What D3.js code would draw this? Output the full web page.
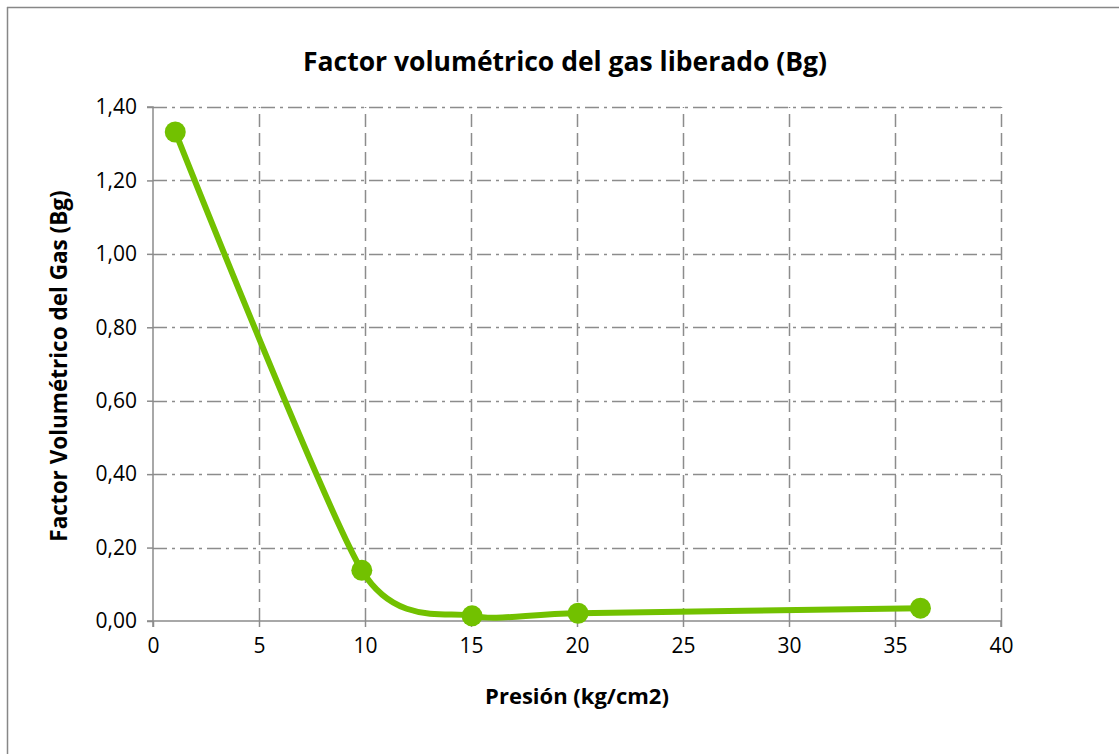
<!DOCTYPE html>
<html><head><meta charset="utf-8">
<script src="https://cdn.jsdelivr.net/npm/d3@7"></script>
<style>
body{margin:0;background:#fff;}
text{font-family:"Open Sans","Liberation Sans",sans-serif;fill:#000;}
</style></head>
<body><svg id="c" width="1119" height="754"></svg>
<script>
const titleText = "Factor volumétrico del gas liberado (Bg)";
const xLabel = "Presión (kg/cm2)";
const yLabel = "Factor Volumétrico del Gas (Bg)";
const pressure = [1.05, 9.85, 15.05, 20.05, 36.2];
const bg = [1.332, 0.138, 0.014, 0.021, 0.035];
const xTicks = [0, 5, 10, 15, 20, 25, 30, 35, 40];
const yTicks = [0, 0.2, 0.4, 0.6, 0.8, 1.0, 1.2, 1.4];

const svg = d3.select("#c");
const W = 1119, H = 754;
const m = {left:153, right:1001, top:107, bottom:621};
const x = d3.scaleLinear().domain([0,40]).range([m.left, m.right]);
const y = d3.scaleLinear().domain([0,1.4]).range([m.bottom, m.top]);
const grid = "#8c8c8c";

svg.append("line").attr("x1",7).attr("x2",W).attr("y1",7.5).attr("y2",7.5).attr("stroke","#878787").attr("stroke-width",1.5);
svg.append("line").attr("x1",7.5).attr("x2",7.5).attr("y1",7).attr("y2",H).attr("stroke","#878787").attr("stroke-width",1.5);

svg.append("g").selectAll("line").data(yTicks.slice(1)).join("line")
  .attr("x1",m.left).attr("x2",m.right)
  .attr("y1",d=>Math.round(y(d))+0.5).attr("y2",d=>Math.round(y(d))+0.5)
  .attr("stroke",grid).attr("stroke-width",1.5).attr("stroke-dasharray","14,5,3,5");
svg.append("g").selectAll("line").data(xTicks.slice(1)).join("line")
  .attr("x1",d=>Math.round(x(d))+0.5).attr("x2",d=>Math.round(x(d))+0.5)
  .attr("y1",m.bottom).attr("y2",m.top)
  .attr("stroke",grid).attr("stroke-width",1.5).attr("stroke-dasharray","13,6");

const xAxis = d3.axisBottom(x).tickValues(xTicks).tickSize(6).tickPadding(8).tickFormat(d3.format("d"));
const gx = svg.append("g").attr("transform",`translate(0,${m.bottom})`).call(xAxis);
const yAxis = d3.axisLeft(y).tickValues(yTicks).tickSize(6).tickPadding(10).tickFormat(d=>d.toFixed(2).replace(".",","));
const gy = svg.append("g").attr("transform",`translate(${m.left},0)`).call(yAxis);
[gx,gy].forEach(g=>{
  g.select(".domain").attr("stroke",grid).attr("stroke-width",1.5);
  g.selectAll(".tick line").attr("stroke",grid).attr("stroke-width",1.5);
  g.selectAll(".tick text").attr("font-family","'Open Sans',sans-serif").attr("font-size",21).attr("fill","#000");
});
gx.select(".domain").attr("d",`M${m.left},6V0H${m.right}V6`);
gy.select(".domain").attr("d",`M-6,${m.bottom}H0V${m.top}H-6`);
gx.selectAll(".tick text").attr("dy","0.85em");

const data = pressure.map((p,i)=>({p, v:bg[i]}));
const line = d3.line().x(d=>x(d.p)).y(d=>y(d.v)).curve(d3.curveCardinal.tension(0.3));
const green = "#72c100";
svg.append("path").datum(data).attr("d",line).attr("fill","none").attr("stroke",green).attr("stroke-width",6).attr("stroke-linejoin","round");
svg.append("g").selectAll("circle").data(data).join("circle")
  .attr("cx",d=>x(d.p)).attr("cy",d=>y(d.v)).attr("r",10.5).attr("fill",green);

svg.append("text").attr("x",565).attr("y",71).attr("text-anchor","middle")
  .attr("font-size",26.5).attr("font-weight","bold").text(titleText);
svg.append("text").attr("x",577).attr("y",704).attr("text-anchor","middle")
  .attr("font-size",22).attr("font-weight","bold").text(xLabel);
svg.append("text").attr("transform","translate(67,366) rotate(-90)").attr("text-anchor","middle")
  .attr("font-size",22.5).attr("font-weight","bold").text(yLabel);
</script></body></html>
